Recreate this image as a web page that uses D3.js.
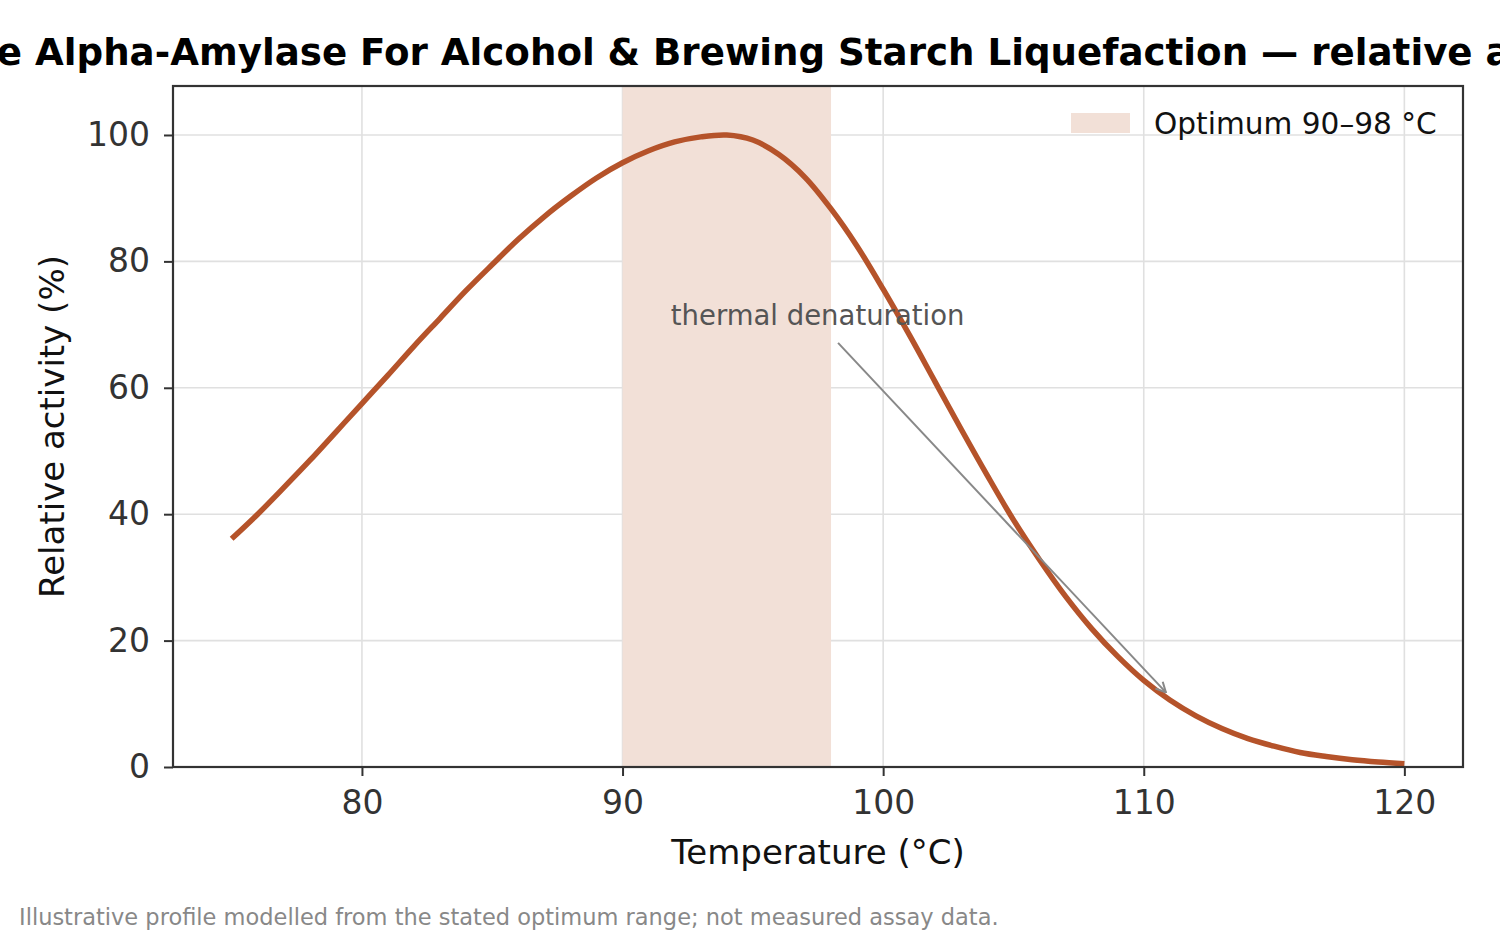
<!DOCTYPE html>
<html>
<head>
<meta charset="utf-8">
<script src="https://cdn.jsdelivr.net/npm/d3@7"></script>
<style>
  body { margin: 0; background: #fff; }
  svg { display: block; font-family: "DejaVu Sans", sans-serif; }
</style>
</head>
<body>
<svg id="chart" width="1500" height="937"></svg>
<script>
// temperatures (°C) and relative activity (%)
const temps = [75, 76, 77, 78, 79, 80, 81, 82, 83, 84, 85, 86, 87, 88, 89, 90, 91, 92, 93, 94,
               95, 96, 97, 98, 99, 100, 101, 102, 103, 104, 105, 106, 107, 108, 109, 110,
               111, 112, 113, 114, 115, 116, 117, 118, 119, 120];
const activity = [36.1, 40.0, 44.2, 48.5, 53.0, 57.5, 62.0, 66.6, 71.0, 75.4, 79.5, 83.5, 87.1, 90.3, 93.2, 95.6, 97.5, 98.9, 99.7, 100,
                  99.2, 96.9, 93.3, 88.3, 82.4, 75.6, 68.4, 60.9, 53.4, 46.1, 39.1, 32.8, 27.0, 21.9, 17.5, 13.7,
                  10.6, 8.1, 6.1, 4.5, 3.3, 2.3, 1.66, 1.15, 0.79, 0.53];
const optimum = [90, 98];
const xTicks = [80, 90, 100, 110, 120];
const yTicks = [0, 20, 40, 60, 80, 100];

const svg = d3.select("#chart");
const plotL = 173, plotR = 1463, plotT = 86, plotB = 767;

let x = d3.scaleLinear().domain([72.75, 122.25]).range([plotL, plotR]);
let y = d3.scaleLinear().domain([0, 107.75]).range([plotB, plotT]);

// grid
svg.append("g").selectAll("line").data(xTicks).join("line")
  .attr("x1", d => x(d)).attr("x2", d => x(d))
  .attr("y1", plotT).attr("y2", plotB)
  .attr("stroke", "#e0e0e0").attr("stroke-width", 1.6);
svg.append("g").selectAll("line").data(yTicks).join("line")
  .attr("x1", plotL).attr("x2", plotR)
  .attr("y1", d => y(d)).attr("y2", d => y(d))
  .attr("stroke", "#e0e0e0").attr("stroke-width", 1.6);

// optimum band
svg.append("rect")
  .attr("x", x(optimum[0])).attr("width", x(optimum[1]) - x(optimum[0]))
  .attr("y", plotT).attr("height", plotB - plotT)
  .attr("fill", "#f2e0d7");

// curve
let data = temps.map((t, i) => ({ t: t, v: activity[i] }));
let line = d3.line().x(d => x(d.t)).y(d => y(d.v)).curve(d3.curveCatmullRom);
svg.append("path")
  .attr("d", line(data))
  .attr("fill", "none")
  .attr("stroke", "#b5532a")
  .attr("stroke-width", 5.5)
  .attr("stroke-linecap", "butt");

// annotation
svg.append("defs").append("marker")
  .attr("id", "arrow").attr("viewBox", "0 0 12 12")
  .attr("refX", 11).attr("refY", 6)
  .attr("markerWidth", 12).attr("markerHeight", 12)
  .attr("markerUnits", "userSpaceOnUse")
  .attr("orient", "auto")
  .append("path").attr("d", "M1,1 L11,6 L1,11")
  .attr("fill", "none").attr("stroke", "#888").attr("stroke-width", 2);
svg.append("line")
  .attr("x1", x(98.27)).attr("y1", y(67.1))
  .attr("x2", x(110.85)).attr("y2", y(11.8))
  .attr("stroke", "#888").attr("stroke-width", 2)
  .attr("marker-end", "url(#arrow)");
svg.append("text")
  .attr("x", x(91.85)).attr("y", 325)
  .attr("font-size", 27.5).attr("fill", "#555")
  .text("thermal denaturation");

// axes
let xAxis = svg.append("g")
  .attr("transform", `translate(0,${plotB})`)
  .call(d3.axisBottom(x).tickValues(xTicks).tickSize(9).tickPadding(15));
let yAxis = svg.append("g")
  .attr("transform", `translate(${plotL},0)`)
  .call(d3.axisLeft(y).tickValues(yTicks).tickSize(9).tickPadding(14));
[xAxis, yAxis].forEach(a => {
  a.select(".domain").remove();
  a.selectAll(".tick line").attr("stroke", "#333").attr("stroke-width", 2);
  a.selectAll(".tick text").attr("font-size", 33).attr("fill", "#333")
    .attr("font-family", "DejaVu Sans");
});

// frame
svg.append("rect")
  .attr("x", plotL).attr("y", plotT)
  .attr("width", plotR - plotL).attr("height", plotB - plotT)
  .attr("fill", "none").attr("stroke", "#333").attr("stroke-width", 2.2);

// labels
svg.append("text")
  .attr("x", (plotL + plotR) / 2).attr("y", 864)
  .attr("text-anchor", "middle").attr("font-size", 34).attr("fill", "#111")
  .text("Temperature (°C)");
svg.append("text")
  .attr("transform", `translate(64,${(plotT + plotB) / 2}) rotate(-90)`)
  .attr("text-anchor", "middle").attr("font-size", 34).attr("fill", "#111")
  .text("Relative activity (%)");

// title: wider than the page, so it runs off both edges as in the original
let title = svg.append("text")
  .attr("y", 65)
  .attr("font-size", 37.2).attr("font-weight", "bold")
  .attr("fill", "#000")
  .text("Thermostable Alpha-Amylase For Alcohol & Brewing Starch Liquefaction — relative activity vs temperature");
let prefixW = title.node().getSubStringLength(0, "Thermostable ".length);
title.attr("x", 35 - prefixW);

// legend
svg.append("rect")
  .attr("x", 1071).attr("y", 113).attr("width", 59).attr("height", 20)
  .attr("fill", "#f2e0d7");
svg.append("text")
  .attr("x", 1154).attr("y", 134)
  .attr("font-size", 29.6).attr("fill", "#111")
  .text("Optimum 90–98 °C");

// footnote
svg.append("text")
  .attr("x", 19).attr("y", 925)
  .attr("font-size", 22.5).attr("fill", "#888")
  .text("Illustrative profile modelled from the stated optimum range; not measured assay data.");
</script>
</body>
</html>
